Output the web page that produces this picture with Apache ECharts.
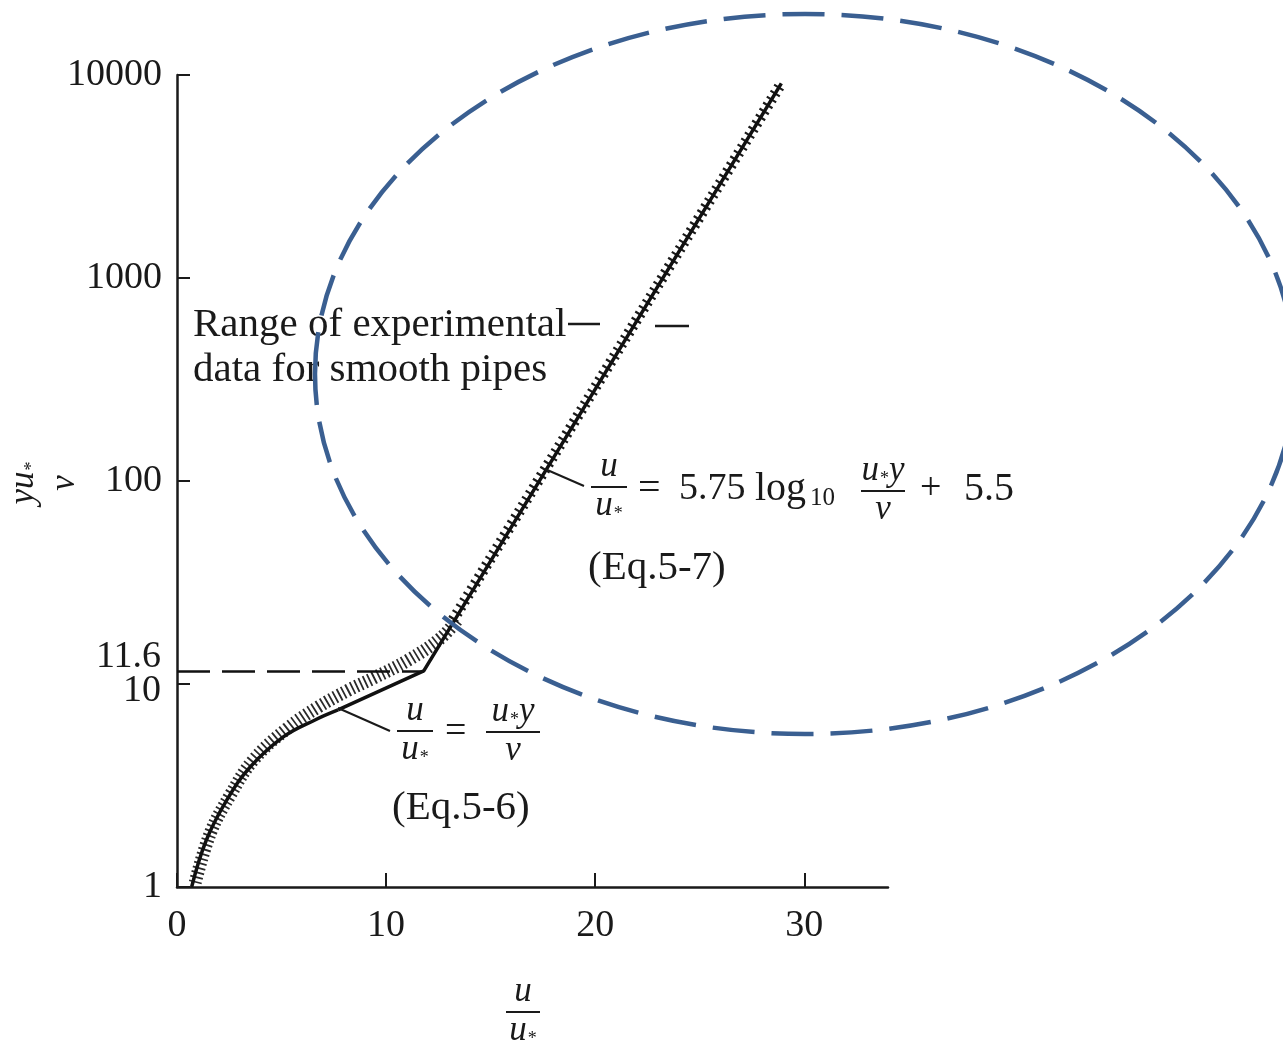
<!DOCTYPE html>
<html>
<head>
<meta charset="utf-8">
<script src="https://cdn.jsdelivr.net/npm/echarts@6/dist/echarts.min.js"></script>
<style>
  html, body { margin: 0; padding: 0; background: #fff; }
  #main { width: 1283px; height: 1047px; }
</style>
</head>
<body>
<div id="main"></div>
<script>
// 读图数据 (u/u* , yu*/v)
var viscousU = [0.7, 1.4, 2.4, 3.5, 5.1, 6.6, 7.7];
var viscousY = [1.0, 1.7, 2.7, 3.9, 5.5, 6.65, 7.45];
var logLawU = [7.7, 11.8, 28.9];
var logLawY = [7.45, 11.6, 9100];
var bandLowU = [0.87, 1.6, 2.55, 3.65, 5.3, 6.75, 8.2, 9.4, 11.05, 12.6, 13.4];
var bandLowY = [1.05, 1.85, 2.84, 4.22, 6.07, 7.7, 9.33, 10.7, 13.1, 16.8, 20.7];
var bandLogU = [13.2, 28.9];
var bandLogY = [20.7, 9100];
var xTicks = [0, 10, 20, 30];
var yTicks = [1, 10, 100, 1000, 10000];
var yLabels = [1, 100, 1000, 10000];
var sublayerY = 11.6;

function zip(a, b) {
	var out = [];
	a.forEach(function(v, i) { out.push([v, b[i]]); });
	return out;
}

var ink = '#1a1a1a';
var serif = '"Liberation Serif", "DejaVu Serif", serif';
var richU = {
	i : { fontFamily : serif, fontStyle : 'italic', fontSize : 35, color : ink },
	s : { fontFamily : serif, fontSize : 18, color : ink, verticalAlign : 'bottom', padding : [0, 0, 0, 1] }
};

// 分式
function frac(cx, yBar, num, den, w) {
	return [
		{ type : 'text', x : cx, y : yBar - 3, z : 50,
			style : { text : num, rich : richU, align : 'center', verticalAlign : 'bottom', fill : ink } },
		{ type : 'line', z : 50, shape : { x1 : cx - w / 2, y1 : yBar, x2 : cx + w / 2, y2 : yBar },
			style : { stroke : ink, lineWidth : 2 } },
		{ type : 'text', x : cx, y : yBar + 1, z : 50,
			style : { text : den, rich : richU, align : 'center', verticalAlign : 'top', fill : ink } }
	];
}
function txt(x, y, s, size, align) {
	return { type : 'text', x : x, y : y, z : 50,
		style : { text : s, font : size + 'px ' + serif, fill : ink, align : align || 'left', verticalAlign : 'middle' } };
}
function seg(x1, y1, x2, y2, w) {
	return { type : 'line', z : 50, shape : { x1 : x1, y1 : y1, x2 : x2, y2 : y2 },
		style : { stroke : ink, lineWidth : w || 2 } };
}

var graphic = [];
// Range of experimental data
graphic.push(txt(193, 325, 'Range of experimental', 41));
graphic.push(txt(193, 370, 'data for smooth pipes', 41));
graphic.push(seg(568, 324, 600, 324, 2.5));
graphic.push(seg(655, 326, 689, 326, 2.5));
// Eq.5-7
graphic.push(seg(545, 469, 584, 486));
graphic = graphic.concat(frac(609, 487, '{i|u}', '{i|u}{s|*}', 36));
graphic.push(txt(638, 489, '=', 40));
graphic.push(txt(679, 489, '5.75', 38));
graphic.push(txt(755, 489, 'log', 40));
graphic.push(txt(810, 498, '10', 25));
graphic = graphic.concat(frac(883, 491, '{i|u}{s|*}{i|y}', '{i|ν}', 44));
graphic.push(txt(920, 489, '+', 38));
graphic.push(txt(964, 489, '5.5', 40));
graphic.push(txt(588, 568, '(Eq.5-7)', 41));
// Eq.5-6
graphic.push(seg(338, 708, 390, 731));
graphic = graphic.concat(frac(415, 731, '{i|u}', '{i|u}{s|*}', 36));
graphic.push(txt(445, 732, '=', 38));
graphic = graphic.concat(frac(513, 732, '{i|u}{s|*}{i|y}', '{i|ν}', 54));
graphic.push(txt(392, 808, '(Eq.5-6)', 41));
// 11.6 和 10
graphic.push(txt(161, 657, '11.6', 38, 'right'));
graphic.push(txt(161, 691, '10', 38, 'right'));
// 坐标轴名称
graphic = graphic.concat(frac(523, 1012, '{i|u}', '{i|u}{s|*}', 34));
graphic.push({
	type : 'group', x : 45, y : 483, rotation : Math.PI / 2, z : 50,
	children : [
		{ type : 'text', x : 0, y : -4, style : { text : '{i|yu}{s|*}', rich : richU, align : 'center', verticalAlign : 'bottom', fill : ink } },
		{ type : 'text', x : 0, y : 2, style : { text : '{i|ν}', rich : richU, align : 'center', verticalAlign : 'top', fill : ink } }
	]
});
// 椭圆
graphic.push({
	type : 'ellipse', z : 100, silent : true,
	shape : { cx : 805, cy : 374, rx : 490, ry : 360 },
	style : { fill : 'none', stroke : '#3a5f91', lineWidth : 4.5, lineDash : [42, 17] }
});

var myChart = echarts.init(document.getElementById('main'));
var option = {
	backgroundColor : '#fff',
	animation : false,
	grid : {
		left : 177,
		top : 75,
		width : 711,
		height : 812,
		outerBoundsMode : 'none'
	},
	xAxis : {
		type : 'value',
		min : 0,
		max : 34,
		interval : 10,
		axisLine : { lineStyle : { color : ink, width : 2.5 } },
		axisTick : { inside : true, length : 14, customValues : xTicks, lineStyle : { color : ink, width : 2 } },
		axisLabel : { customValues : xTicks, margin : 20, color : ink, fontFamily : serif, fontSize : 38 },
		splitLine : { show : false }
	},
	yAxis : {
		type : 'log',
		logBase : 10,
		min : 1,
		max : 10000,
		axisLine : { lineStyle : { color : ink, width : 2.5 } },
		axisTick : { inside : true, length : 13, customValues : yTicks, lineStyle : { color : ink, width : 2 } },
		axisLabel : {
			customValues : yLabels,
			margin : 15,
			color : ink,
			fontFamily : serif,
			fontSize : 38,
			formatter : function(v) { return String(Math.round(v)); }
		},
		splitLine : { show : false }
	},
	series : [
		{
			name : 'band-low',
			type : 'line',
			smooth : 0.4,
			symbol : 'none',
			data : zip(bandLowU, bandLowY),
			lineStyle : { color : '#2a2a2a', width : 13, type : [1.8, 3] },
			z : 2
		},
		{
			name : 'band-log',
			type : 'line',
			symbol : 'none',
			data : zip(bandLogU, bandLogY),
			lineStyle : { color : '#1a1a1a', width : 11, type : [2.2, 4.8] },
			z : 2
		},
		{
			name : 'viscous',
			type : 'line',
			smooth : 0.4,
			symbol : 'none',
			data : zip(viscousU, viscousY),
			lineStyle : { color : '#111', width : 3.5 },
			z : 3
		},
		{
			name : 'loglaw',
			type : 'line',
			symbol : 'none',
			data : zip(logLawU, logLawY),
			lineStyle : { color : '#111', width : 3.5 },
			z : 3,
			markLine : {
				silent : true,
				symbol : 'none',
				label : { show : false },
				lineStyle : { color : '#111', width : 2.5, type : [33, 12] },
				data : [ [ { coord : [0, sublayerY] }, { coord : [11.8, sublayerY] } ] ]
			}
		}
	],
	graphic : graphic
};
myChart.setOption(option, true);
</script>
</body>
</html>
